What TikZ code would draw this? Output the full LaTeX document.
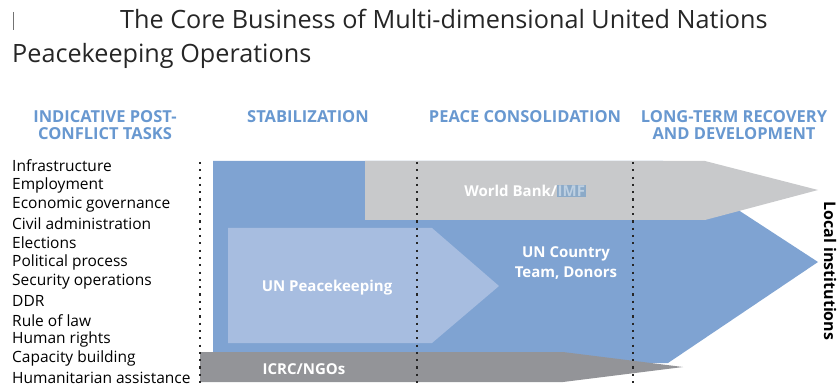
\documentclass[tikz,border=0pt]{standalone}
\usepackage{fontspec}
\setmainfont{Open Sans}
\definecolor{phaseblue}{RGB}{104,152,208}
\definecolor{unblue}{RGB}{127,163,210}
\definecolor{pkblue}{RGB}{167,189,224}
\definecolor{wbgray}{RGB}{200,201,203}
\definecolor{ngogray}{RGB}{147,148,152}
\definecolor{imfbox}{RGB}{140,170,200}
\definecolor{imftext}{RGB}{190,208,226}
\tikzset{
  phase/.style={inner sep=0pt, align=center, text=phaseblue,
    font=\fontsize{16.5}{17}\selectfont\bfseries},
  actor/.style={inner sep=0pt, align=center, text=white,
    font=\fontsize{15}{20}\selectfont\bfseries},
  task/.style={inner sep=0pt, anchor=west, font=\fontsize{15.5}{18}\selectfont},
  stage/.style={black!85, line width=2.2pt, dash pattern=on 2.2pt off 5.1pt},
}
\begin{document}
\begin{tikzpicture}[x=1pt,y=-1pt]
  \useasboundingbox (0,0) rectangle (837,387);
  % title
  \draw[black!55, line width=0.8pt] (13,12) -- (13,30);
  \node[inner sep=0pt, anchor=base west, text=black!85, font=\fontsize{25.2}{30}\selectfont]
    (title) at (120,29) {The Core Business of Multi-dimensional United Nations};
  \node[inner sep=0pt, anchor=base west, text=black!85, font=\fontsize{25.2}{30}\selectfont]
    (subtitle) at (12,63) {Peacekeeping Operations};
  % phases
  \node[phase] (tasks) at (105,125) {INDICATIVE POST-\\CONFLICT TASKS};
  \node[phase] (stab) at (308,117) {STABILIZATION};
  \node[phase] (cons) at (525,117) {PEACE CONSOLIDATION};
  \node[phase] (recov) at (734,125) {LONG-TERM RECOVERY\\AND DEVELOPMENT};
  % tasks
  \foreach \t [count=\i from 0] in {Infrastructure, Employment, Economic governance,
      Civil administration, Elections, Political process, Security operations, DDR,
      Rule of law, Human rights, Capacity building, Humanitarian assistance}
    \node[task] (task\i) at (12,{166+19.27*\i}) {\t};
  % actors
  \fill[unblue] (213,161) -- (663,161) -- (818,262) -- (668,363) -- (213,363) -- cycle;
  \fill[wbgray] (365,161) -- (705,161) -- (818,190) -- (705,220) -- (365,220) -- cycle;
  \fill[pkblue] (228,228) -- (432,228) -- (499,286) -- (432,343) -- (228,343) -- cycle;
  \fill[ngogray] (200,352) -- (563,352) -- (683,367) -- (563,382) -- (200,382) -- cycle;
  \node[actor] (wb) at (525,191)
    {World Bank/{\fboxsep=0.6pt\colorbox{imfbox}{\textcolor{imftext}{IMF}}}};
  \node[actor] (unct) at (566,263) {UN Country\\Team, Donors};
  \node[actor] (pk) at (327,288) {UN Peacekeeping};
  \node[actor] (ngo) at (304,369) {ICRC/NGOs};
  \node[actor, text=black, rotate=-90, font=\fontsize{16}{20}\selectfont\bfseries]
    (local) at (830,271) {Local institutions};
  % phase borders
  \draw[stage] (200,162) -- (200,384);
  \draw[stage] (417,162) -- (417,384);
  \draw[stage] (633,162) -- (633,384);
\end{tikzpicture}
\end{document}
